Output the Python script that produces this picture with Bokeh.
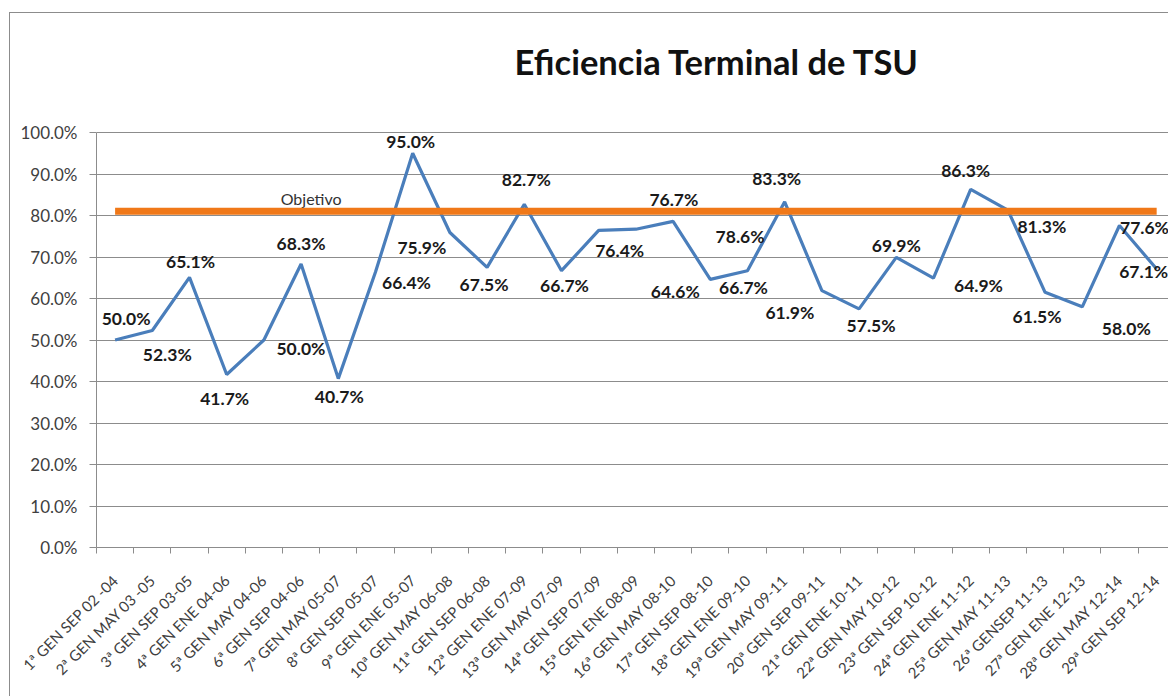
import math
from bokeh.plotting import figure
from bokeh.models import ColumnDataSource, Range1d, FixedTicker, PrintfTickFormatter
from bokeh.core.properties import value
from bokeh.embed import file_html
from bokeh.resources import INLINE

# ---------------- data ----------------
categories = [
    "1ª GEN SEP 02 -04", "2ª GEN MAY 03 -05", "3ª GEN SEP 03-05", "4ª GEN ENE 04-06",
    "5ª GEN MAY 04-06", "6ª GEN SEP 04-06", "7ª GEN MAY 05-07", "8ª GEN SEP 05-07",
    "9ª GEN ENE 05-07", "10ª GEN MAY 06-08", "11ª GEN SEP 06-08", "12ª GEN ENE 07-09",
    "13ª GEN MAY 07-09", "14ª GEN SEP 07-09", "15ª GEN ENE 08-09", "16ª GEN MAY 08-10",
    "17ª GEN SEP 08-10", "18ª GEN ENE 09-10", "19ª GEN MAY 09-11", "20ª GEN SEP 09-11",
    "21ª GEN ENE 10-11", "22ª GEN MAY 10-12", "23ª GEN SEP 10-12", "24ª GEN ENE 11-12",
    "25ª GEN MAY 11-13", "26ª GENSEP 11-13", "27ª GEN ENE 12-13", "28ª GEN MAY 12-14",
    "29ª GEN SEP 12-14",
]
eficiencia = [50.0, 52.3, 65.1, 41.7, 50.0, 68.3, 40.7, 66.4, 95.0, 75.9,
              67.5, 82.7, 66.7, 76.4, 76.7, 78.6, 64.6, 66.7, 83.3, 61.9,
              57.5, 69.9, 64.9, 86.3, 81.3, 61.5, 58.0, 77.6, 67.1]
objetivo = [81.0, 81.0, 81.0, 81.0, 81.0, 81.0, 81.0, 81.0, 81.0, 81.0,
            81.0, 81.0, 81.0, 81.0, 81.0, 81.0, 81.0, 81.0, 81.0, 81.0,
            81.0, 81.0, 81.0, 81.0, 81.0, 81.0, 81.0, 81.0, 81.0]
y_ticks = [0, 10, 20, 30, 40, 50, 60, 70, 80, 90, 100]
title_text = "Eficiencia Terminal de TSU"
target_label = "Objetivo"

# label placement (style: pixel offsets of each data label from its point)
label_dx = [11, 15, 1, -2, 37, 0, 1, 31, -2, -28, -3, 2, 3, 21, 38, 67, -35, -4,
            -8, -32, 12, 0, 45, -5, 34, -8, 44, 25, -13]
label_dy = [-22, 24, -16, 24, 8, -21, 18, 11, -12, 15, 17, -25, 15, 20, -30, 15, 12,
            17, -23, 22, 17, -12, 7, -19, 16, 24, 22, 2, 2]

FONT = "Lato"
BLUE = "#4A7EBB"
ORANGE = "#F07818"
GRID = "#8C8C8C"

xs = [i + 0.5 for i in range(len(categories))]

# frame extends above 100% to hold the title; axis line is bounded to 0..100
p = figure(width=1159, height=684,
           x_range=Range1d(0, 28.845), y_range=Range1d(0, 126.27),
           output_backend="svg", toolbar_location=None,
           min_border_left=86, min_border_right=0,
           min_border_top=10, min_border_bottom=150)
p.styles = {"margin-left": "9px", "margin-top": "12px",
            "border-left": "1px solid #8C8C8C", "border-top": "1px solid #8C8C8C"}
p.outline_line_color = None
p.background_fill_color = "white"
p.border_fill_color = "white"

# axes
p.xaxis.ticker = FixedTicker(ticks=xs, minor_ticks=list(range(len(categories) + 1)))
p.xaxis.major_label_overrides = {x: c for x, c in zip(xs, categories)}
p.xaxis.major_label_orientation = math.pi / 4
p.xaxis.major_tick_out = 0
p.xaxis.major_tick_in = 0
p.xaxis.minor_tick_out = 6
p.xaxis.minor_tick_in = 0
p.xaxis.minor_tick_line_color = GRID
p.xaxis.axis_line_color = GRID
p.xaxis.major_label_text_font = FONT
p.xaxis.major_label_text_font_size = "15px"
p.xaxis.major_label_text_color = "#404040"
p.xaxis.major_label_standoff = 24

p.yaxis.ticker = FixedTicker(ticks=y_ticks, minor_ticks=[])
p.yaxis.bounds = (y_ticks[0], y_ticks[-1])
p.yaxis.formatter = PrintfTickFormatter(format="%.1f%%")
p.yaxis.major_tick_out = 7
p.yaxis.major_tick_in = 0
p.yaxis.major_tick_line_color = GRID
p.yaxis.axis_line_color = GRID
p.yaxis.major_label_text_font = FONT
p.yaxis.major_label_text_font_size = "17px"
p.yaxis.major_label_text_color = "#404040"
p.yaxis.major_label_standoff = 12

p.xgrid.grid_line_color = None
p.ygrid.ticker = FixedTicker(ticks=y_ticks)
p.ygrid.grid_line_color = GRID
p.ygrid.grid_line_width = 1

# title, drawn in the upper part of the frame
p.text(x=[16.69], y=[117.0], text=[title_text],
       text_font=value(FONT), text_font_size="34.5px", text_font_style="bold",
       text_color="#111111", text_align="center", text_baseline="middle")

# target label (drawn before target line so the line overlaps it)
p.text(x=[xs[5]], y=[objetivo[5]], text=[target_label],
       x_offset=10, y_offset=-13,
       text_font=value(FONT), text_font_size="16px", text_color="#333333",
       text_align="center", text_baseline="middle")

# series
p.line(xs, eficiencia, line_color=BLUE, line_width=3.2)
p.line(xs, objetivo, line_color=ORANGE, line_width=7)

labels = ColumnDataSource(dict(
    x=xs, y=eficiencia, text=[f"{v:.1f}%" for v in eficiencia],
    dx=label_dx, dy=label_dy))
p.text(x="x", y="y", text="text", x_offset="dx", y_offset="dy", source=labels,
       text_font=value(FONT), text_font_size="17.5px", text_font_style="bold",
       text_color="#1A1A1A", text_align="center", text_baseline="middle")

open("out.html", "w").write(file_html(p, INLINE))
